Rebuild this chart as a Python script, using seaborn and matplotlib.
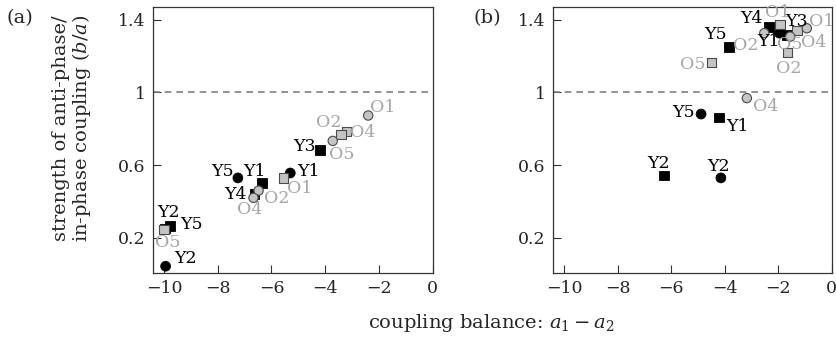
import matplotlib
matplotlib.use("Agg")
import matplotlib.pyplot as plt
import pandas as pd
import seaborn as sns


# panel (a)
A_LABELS = ["O1", "O2", "O4", "O5", "Y3", "Y1", "O1", "Y5", "Y1", "O2", "Y4", "O4", "O5", "Y5", "Y2", "Y2"]
A_GROUP = ["O", "O", "O", "O", "Y", "Y", "O", "Y", "Y", "O", "Y", "O", "O", "Y", "Y", "Y"]
A_SHAPE = ["circle", "square", "square", "circle", "square", "circle", "square", "circle",
           "square", "circle", "square", "circle", "square", "square", "square", "circle"]
A_X = [-2.40, -3.21, -3.41, -3.72, -4.18, -5.30, -5.55, -7.25, -6.35, -6.48, -6.63, -6.67, -10.0, -9.78, -9.96, -9.94]
A_Y = [0.873, 0.785, 0.769, 0.733, 0.681, 0.556, 0.529, 0.529, 0.501, 0.459, 0.441, 0.419, 0.244, 0.263, 0.250, 0.042]

# panel (b)
B_LABELS = ["Y4", "O1", "Y1", "Y3", "O4", "O1", "O5", "O2", "O2", "Y5", "O5", "O4", "Y5", "Y1", "Y2", "Y2"]
B_GROUP = ["Y", "O", "Y", "Y", "O", "O", "O", "O", "O", "Y", "O", "O", "Y", "Y", "Y", "Y"]
B_SHAPE = ["square", "square", "circle", "square", "square", "circle", "circle", "circle",
           "square", "square", "square", "circle", "circle", "square", "square", "circle"]
B_X = [-2.33, -1.93, -1.95, -1.67, -1.30, -0.93, -1.55, -2.52, -1.65, -3.83, -4.48, -3.17, -4.88, -4.21, -6.26, -4.14]
B_Y = [1.360, 1.376, 1.327, 1.318, 1.340, 1.354, 1.308, 1.327, 1.220, 1.253, 1.167, 0.969, 0.881, 0.862, 0.542, 0.529]

X_TICKS = [-10, -8, -6, -4, -2, 0]
Y_TICKS = [0.2, 0.6, 1.0, 1.4]
Y_TICKLABELS = ["0.2", "0.6", "1", "1.4"]

# label placement, pixel offsets from each point (right, down)
A_OFFSETS = [(14, -8.5), (-18, -9.2), (22, -1.7), (9, 14), (-16, -4), (18, -2), (16, 11), (-15, -6.5),
             (-8, -11.5), (18, 8), (-19, 1), (-4, 12), (4, 13), (22, -2), (3, -16), (20, -8)]
B_OFFSETS = [(-18, -9), (-2.5, -12), (-11, 8.4), (10, -13), (17, 12), (15, -7), (0, 7.5), (-19, 12),
             (1, 15.6), (-14, -11.7), (-19, 2), (19, 8), (-18, -2), (18.5, 9), (-5.7, -12), (-2.4, -11.7)]

GREY_TEXT = "#a6a6a6"
GREY_FILL = "#c4c4c4"
FONT_SIZE = 12.5
AXIS_LABEL_SIZE = 14

sns.set_theme(style="ticks")
plt.rcParams["font.family"] = ["DejaVu Serif"]
plt.rcParams["mathtext.fontset"] = "dejavuserif"


def draw_panel(ax, labels, groups, shapes, xs, ys, offsets):
    df = pd.DataFrame({"label": labels, "group": groups, "shape": shapes, "x": xs, "y": ys})
    ax.axhline(1, color="#808080", linewidth=1.2, linestyle=(0, (4, 3)), zorder=1)
    markers = {"circle": "o", "square": "s"}
    sns.scatterplot(data=df[df["group"] == "Y"], x="x", y="y", style="shape", markers=markers,
                    color="black", edgecolor="black", linewidth=0.6, s=50, legend=False, ax=ax, zorder=3)
    sns.scatterplot(data=df[df["group"] == "O"], x="x", y="y", style="shape", markers=markers,
                    color=GREY_FILL, edgecolor="#4a4a4a", linewidth=0.8, s=45, legend=False, ax=ax, zorder=4)
    for row, (dx, dy) in zip(df.itertuples(), offsets):
        ax.annotate(row.label, (row.x, row.y), xytext=(dx, -dy), textcoords="offset pixels",
                    ha="center", va="center", fontsize=FONT_SIZE,
                    color="black" if row.group == "Y" else GREY_TEXT, zorder=5)
    ax.set_xlim(-10.42, 0)
    ax.set_ylim(0.003, 1.473)
    ax.set_xticks(X_TICKS)
    ax.set_yticks(Y_TICKS)
    ax.set_yticklabels(Y_TICKLABELS)
    ax.set_xlabel("")
    ax.set_ylabel("")
    ax.tick_params(direction="in", length=6, width=0.8, labelsize=FONT_SIZE, color="#333333", pad=5)
    for spine in ax.spines.values():
        spine.set_visible(True)
        spine.set_color("#333333")
        spine.set_linewidth(0.9)


fig = plt.figure(figsize=(8.37, 3.4), dpi=100)
ax_a = fig.add_axes([152.7 / 837, 1 - 273.3 / 340, 280 / 837, 266.6 / 340])
ax_b = fig.add_axes([552.8 / 837, 1 - 273.3 / 340, 278.9 / 837, 266.6 / 340])

draw_panel(ax_a, A_LABELS, A_GROUP, A_SHAPE, A_X, A_Y, A_OFFSETS)
draw_panel(ax_b, B_LABELS, B_GROUP, B_SHAPE, B_X, B_Y, B_OFFSETS)

fig.text(20 / 837, 1 - 18 / 340, "(a)", ha="center", va="center", fontsize=AXIS_LABEL_SIZE)
fig.text(487 / 837, 1 - 18 / 340, "(b)", ha="center", va="center", fontsize=AXIS_LABEL_SIZE)
fig.text(73 / 837, 1 - 128 / 340, "strength of anti-phase/\nin-phase coupling ($b/a$)",
         rotation=90, ha="center", va="center", fontsize=AXIS_LABEL_SIZE, linespacing=1.0)
fig.text(491 / 837, 1 - 323 / 340, "coupling balance: $a_1 - a_2$", ha="center", va="center",
         fontsize=AXIS_LABEL_SIZE)

fig.savefig("out.png", dpi=100)
plt.close(fig)
